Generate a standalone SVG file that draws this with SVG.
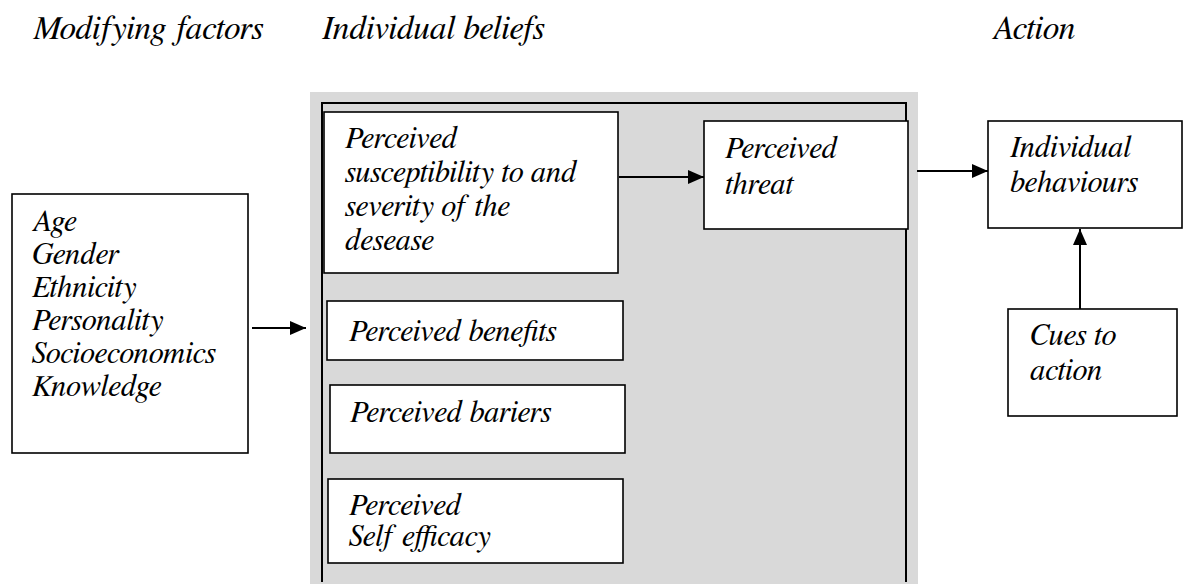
<svg xmlns="http://www.w3.org/2000/svg" width="1184" height="586" viewBox="0 0 1184 586">
<style>
svg text.h{font-size:33.5px;fill:#000}
svg text.t{font-size:30.5px;fill:#000}
.box{fill:#fff;stroke:#000;stroke-width:1.6}
.con{stroke:#000;stroke-width:2;fill:none}
</style>
<defs>
<marker id="ah" viewBox="0 0 16 14" refX="16" refY="7" markerWidth="16" markerHeight="14" markerUnits="userSpaceOnUse" orient="auto">
<path d="M0,0 L16,7 L0,14 z" fill="#000"/>
</marker>
</defs>
<rect width="1184" height="586" fill="#fff"/>
<g id="headers">
<text class="h" x="33" y="39" style="font-family:FreeSerif,serif;font-style:italic">Modifying factors</text>
<text class="h" x="322" y="39" style="font-family:FreeSerif,serif;font-style:italic">Individual beliefs</text>
<text class="h" x="992" y="39" style="font-family:FreeSerif,serif;font-style:italic">Action</text>
</g>
<g id="beliefs-panel">
<rect x="310" y="92" width="608" height="492" fill="#d9d9d9"/>
<path d="M322,582 V103 H906 V582" fill="none" stroke="#000" stroke-width="2"/>
</g>
<g id="modifying-factors">
<rect class="box" x="12" y="194" width="236" height="259"/>
<text class="t" x="32" y="231" style="font-family:FreeSerif,serif;font-style:italic">Age</text>
<text class="t" x="32" y="264" style="font-family:FreeSerif,serif;font-style:italic">Gender</text>
<text class="t" x="32" y="297" style="font-family:FreeSerif,serif;font-style:italic">Ethnicity</text>
<text class="t" x="32" y="330" style="font-family:FreeSerif,serif;font-style:italic">Personality</text>
<text class="t" x="32" y="363" style="font-family:FreeSerif,serif;font-style:italic">Socioeconomics</text>
<text class="t" x="32" y="396" style="font-family:FreeSerif,serif;font-style:italic">Knowledge</text>
</g>
<g id="susceptibility">
<rect class="box" x="324" y="112" width="294" height="161"/>
<text class="t" x="345" y="148" style="font-family:FreeSerif,serif;font-style:italic">Perceived</text>
<text class="t" x="345" y="182" style="font-family:FreeSerif,serif;font-style:italic">susceptibility to and</text>
<text class="t" x="345" y="216" style="font-family:FreeSerif,serif;font-style:italic">severity of the</text>
<text class="t" x="345" y="250" style="font-family:FreeSerif,serif;font-style:italic">desease</text>
</g>
<g id="benefits">
<rect class="box" x="327" y="301" width="296" height="59"/>
<text class="t" x="349" y="341" style="font-family:FreeSerif,serif;font-style:italic">Perceived benefits</text>
</g>
<g id="barriers">
<rect class="box" x="330" y="385" width="295" height="68"/>
<text class="t" x="350" y="422" style="font-family:FreeSerif,serif;font-style:italic">Perceived bariers</text>
</g>
<g id="self-efficacy">
<rect class="box" x="328" y="479" width="295" height="84"/>
<text class="t" x="349" y="515" style="font-family:FreeSerif,serif;font-style:italic">Perceived</text>
<text class="t" x="349" y="546" style="font-family:FreeSerif,serif;font-style:italic">Self efficacy</text>
</g>
<g id="threat">
<rect class="box" x="704" y="121" width="204" height="108"/>
<text class="t" x="725" y="158" style="font-family:FreeSerif,serif;font-style:italic">Perceived</text>
<text class="t" x="725" y="194" style="font-family:FreeSerif,serif;font-style:italic">threat</text>
</g>
<g id="behaviours">
<rect class="box" x="988" y="121" width="194" height="107"/>
<text class="t" x="1010" y="157" style="font-family:FreeSerif,serif;font-style:italic">Individual</text>
<text class="t" x="1010" y="192" style="font-family:FreeSerif,serif;font-style:italic">behaviours</text>
</g>
<g id="cues">
<rect class="box" x="1008" y="309" width="169" height="107"/>
<text class="t" x="1030" y="345" style="font-family:FreeSerif,serif;font-style:italic">Cues to</text>
<text class="t" x="1030" y="380" style="font-family:FreeSerif,serif;font-style:italic">action</text>
</g>
<g id="connectors">
<path class="con" d="M252,328 H306" marker-end="url(#ah)"/>
<path class="con" d="M619,177 H704" marker-end="url(#ah)"/>
<path class="con" d="M917,171 H988" marker-end="url(#ah)"/>
<path class="con" d="M1080,309 V229" marker-end="url(#ah)"/>
</g>
</svg>
